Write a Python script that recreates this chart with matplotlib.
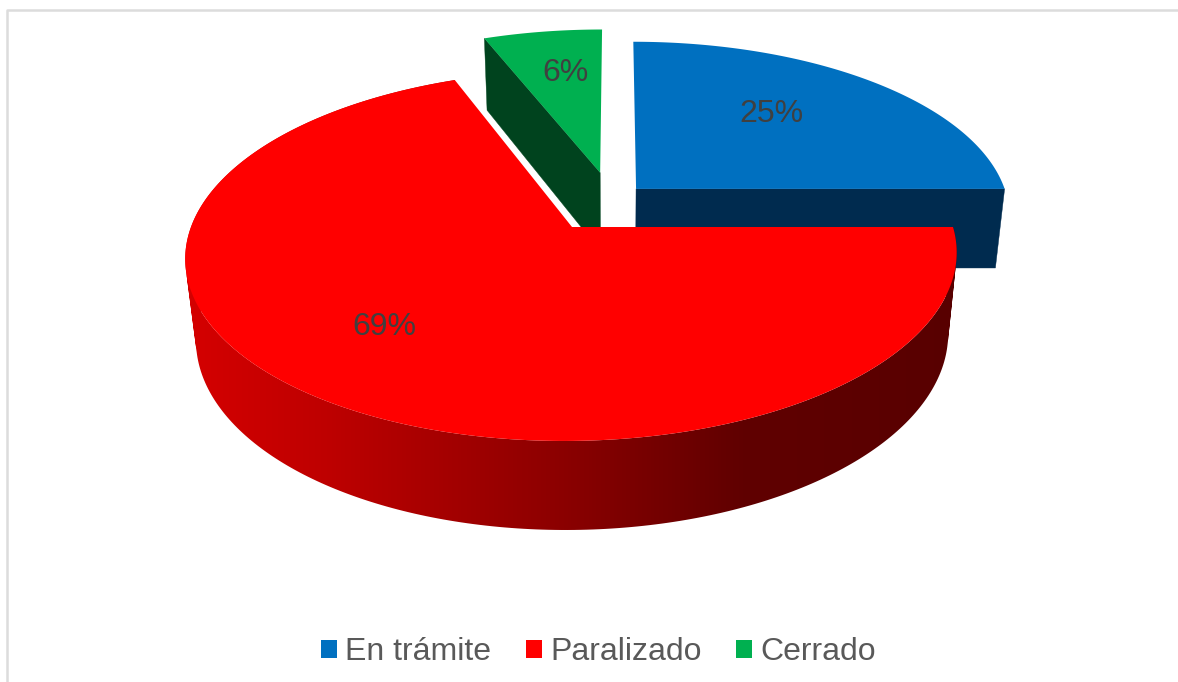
import numpy as np
import matplotlib
matplotlib.use("Agg")
import matplotlib.pyplot as plt
from matplotlib.colors import LinearSegmentedColormap
from matplotlib.patches import Patch, Polygon
from matplotlib.path import Path

categories = ["En trámite", "Paralizado", "Cerrado"]
values = [25, 69, 6]
labels = ["25%", "69%", "6%"]
top_colors = ["#0070C0", "#FF0000", "#00B050"]
side_colors = ["#002B4F", None, "#00431E"]
offsets = [(0.170, 0.218), (0.0, 0.0), (0.072, 0.315)]
label_pos = [(771, 114), (384, 327), (566, 73)]

CX, CY, VX = 572, 227, 615
R, RS, K, M, H = 381, 180.8, 0.155, 0.025, 82.8


def proj(u, v, z=0.0):
    w = 1 + K * v + M * z
    return VX + (CX - VX + R * u) / w, CY - (RS * v - H * z) / w


fig = plt.figure(figsize=(11.78, 6.82), dpi=100)
ax = fig.add_axes([0, 0, 1, 1])
ax.set_xlim(0, 1178)
ax.set_ylim(682, 0)
ax.axis("off")

# frame
ax.plot([6.5, 6.5, 1178], [682, 9.5, 9.5], color="#DCDCDC", lw=1.8)

fr = np.cumsum([0] + values) / sum(values) * 2 * np.pi


def rim(i, t):
    du, dv = offsets[i]
    return np.sin(t) + du, np.cos(t) + dv


def top_poly(i):
    ts = np.linspace(fr[i], fr[i + 1], 300)
    x, y = proj(*rim(i, ts))
    ax0, ay0 = proj(*offsets[i])
    return np.r_[[[ax0, ay0]], np.c_[x, y]]


def radial_face(i, t, color, zo):
    du, dv = offsets[i]
    u, v = rim(i, t)
    pts = [proj(du, dv), proj(u, v), proj(u, v, 1), proj(du, dv, 1)]
    ax.add_patch(Polygon(pts, fc=color, ec=color, lw=0.3, zorder=zo))


def rim_path(i, n=300):
    """Union of the rim's small quads, all wound the same way."""
    ts = np.linspace(fr[i], fr[i + 1], n)
    quads = []
    for a, b in zip(ts[:-1], ts[1:]):
        q = np.array([proj(*rim(i, a)), proj(*rim(i, b)),
                      proj(*rim(i, b), 1), proj(*rim(i, a), 1)])
        x, y = q[:, 0], q[:, 1]
        if np.dot(x, np.roll(y, -1)) - np.dot(y, np.roll(x, -1)) < 0:
            q = q[::-1]
        quads.append(Path(np.r_[q, q[:1]], closed=True))
    return Path.make_compound_path(*quads)


# blue slice
radial_face(0, fr[1], side_colors[0], 1)
ax.add_patch(Polygon(top_poly(0), fc=top_colors[0], ec="none", zorder=2))

# green slice
radial_face(2, fr[2], side_colors[2], 1)
ax.add_patch(Polygon(top_poly(2), fc=top_colors[2], ec="none", zorder=2))

# red slice: rim shaded left to right
stops = [(0.0, "#D60000"), (0.187, "#BE0000"), (0.485, "#8C0000"),
         (0.72, "#600000"), (1.0, "#580000")]
cmap = LinearSegmentedColormap.from_list("redrim", stops)
img = ax.imshow(np.linspace(0, 1, 512)[None, :], cmap=cmap, aspect="auto",
                extent=(180, 962, 682, 0), zorder=3, interpolation="bilinear")
img.set_clip_path(rim_path(1), transform=ax.transData)
ax.set_xlim(0, 1178)
ax.set_ylim(682, 0)
ax.add_patch(Polygon(top_poly(1), fc=top_colors[1], ec="none", zorder=4))

for lab, (x, y) in zip(labels, label_pos):
    ax.text(x, y, lab, ha="center", va="center", fontsize=23,
            family="Liberation Sans", color="#404040", zorder=6)

handles = [Patch(fc=c, ec="none") for c in top_colors]
ax.legend(handles, categories, loc="center", bbox_to_anchor=(598.5 / 1178, 1 - 652 / 682),
          ncol=3, frameon=False, handlelength=0.5, handleheight=0.5,
          handletextpad=0.26, columnspacing=1.08, borderpad=0, borderaxespad=0,
          prop={"family": "Liberation Sans", "size": 23}, labelcolor="#595959")

fig.savefig("out.png", dpi=100, facecolor="white")
